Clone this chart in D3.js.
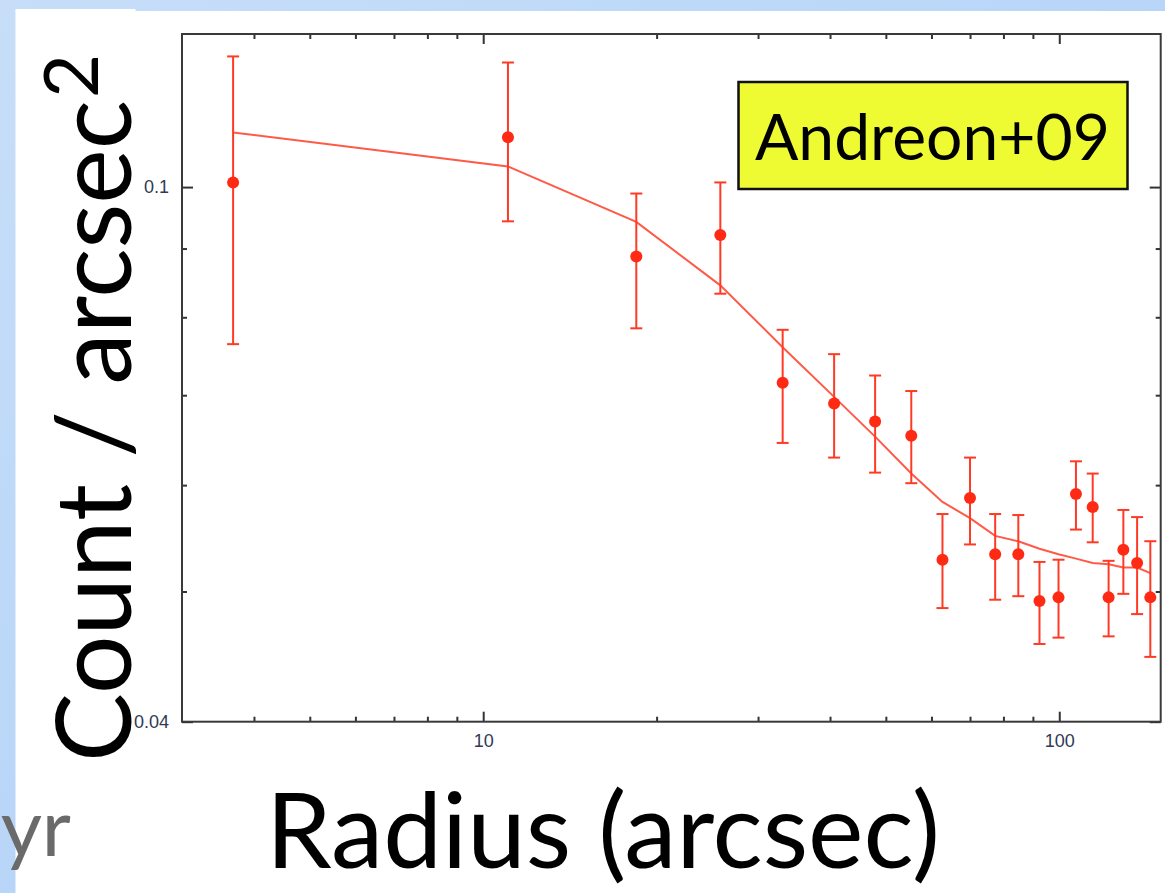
<!DOCTYPE html>
<html>
<head>
<meta charset="utf-8">
<script src="https://cdn.jsdelivr.net/npm/d3@7"></script>
<style>
  html, body { margin: 0; padding: 0; background: #ffffff; }
  svg { display: block; }
</style>
</head>
<body>
<script>
// Galaxy surface density profile with model fit (log–log)
const radius   = [3.68, 11.04, 18.44, 25.8, 33.1, 40.66, 47.9, 55.35, 62.7, 70.0,
                  77.4, 84.9, 92.4, 99.7, 106.9, 114.3, 121.8, 129.2, 136.5, 143.9];
const density  = [0.1008, 0.1089, 0.0888, 0.0921, 0.0715, 0.0690, 0.0669, 0.0653, 0.0528, 0.0587,
                  0.0533, 0.0533, 0.0492, 0.0495, 0.0591, 0.0578, 0.0495, 0.0537, 0.0525, 0.0495];
const errHigh  = [0.1251, 0.1238, 0.0989, 0.1008, 0.0783, 0.0751, 0.0724, 0.0705, 0.0571, 0.0629,
                  0.0571, 0.0570, 0.0526, 0.0528, 0.0625, 0.0612, 0.0527, 0.0575, 0.0568, 0.0545];
const errLow   = [0.0764, 0.0943, 0.0785, 0.0833, 0.0645, 0.0629, 0.0613, 0.0602, 0.0486, 0.0542,
                  0.0493, 0.0496, 0.0457, 0.0462, 0.0556, 0.0544, 0.0463, 0.0498, 0.0481, 0.0447];
const modelFit = [0.1098, 0.1036, 0.0942, 0.0845, 0.0760, 0.0698, 0.0652, 0.0612, 0.0583, 0.0567,
                  0.0550, 0.0545, 0.0538, 0.0533, 0.0529, 0.0525, 0.0524, 0.0521, 0.0521, 0.0516];

const xMajorTicks = [10, 100];
const xMajorLabels = ["10", "100"];
const xMinorTicks = [4, 5, 6, 7, 8, 9, 20, 30, 40, 50, 60, 70, 80, 90];
const yMajorTicks = [0.04, 0.1];
const yMajorLabels = ["0.04", "0.1"];
const yMinorTicks = [0.05, 0.06, 0.07, 0.08, 0.09];
const xDomain = [3, 150];
const yDomain = [0.04, 0.13];

const W = 1165, H = 893;
const plot = { left: 182, right: 1160.7, top: 34, bottom: 721.7 };

const svg = d3.select("body").append("svg")
  .attr("width", W).attr("height", H);

// slide backdrop: blue band along top and left edge
const defs = svg.append("defs");
const grad = defs.append("linearGradient").attr("id", "slideBlue")
  .attr("x1", "0").attr("y1", "0").attr("x2", "1").attr("y2", "1");
grad.append("stop").attr("offset", "0").attr("stop-color", "#c7def8");
grad.append("stop").attr("offset", "1").attr("stop-color", "#a9cdf9");
svg.append("rect").attr("width", W).attr("height", H).attr("fill", "url(#slideBlue)");
svg.append("rect").attr("x", 15.5).attr("y", 11).attr("width", W).attr("height", H).attr("fill", "#ffffff");
svg.append("rect").attr("x", 15.5).attr("y", 9).attr("width", 120).attr("height", 3).attr("fill", "#ffffff");

const x = d3.scaleLog().domain(xDomain).range([plot.left, plot.right]);
const y = d3.scaleLog().domain(yDomain).range([plot.bottom, plot.top]);

const tickColor = "#333333";
const labelColor = "#2f3a54";
const tickFont = "'Liberation Sans', Arial, Helvetica, sans-serif";

function styleAxis(g) {
  g.select(".domain").remove();
  g.selectAll(".tick line").attr("stroke", tickColor).attr("stroke-width", 2);
  g.selectAll(".tick text").attr("fill", labelColor)
    .style("font-family", tickFont).style("font-size", "18px");
}

// bottom / top axes
svg.append("g").attr("transform", `translate(0,${plot.bottom})`)
  .call(d3.axisBottom(x).tickValues(xMajorTicks).tickSize(-10).tickPadding(13)
    .tickFormat((d, i) => xMajorLabels[i])).call(styleAxis);
svg.append("g").attr("transform", `translate(0,${plot.bottom})`)
  .call(d3.axisBottom(x).tickValues(xMinorTicks).tickSize(-5).tickFormat("")).call(styleAxis);
svg.append("g").attr("transform", `translate(0,${plot.top})`)
  .call(d3.axisTop(x).tickValues(xMajorTicks).tickSize(-10).tickFormat("")).call(styleAxis);
svg.append("g").attr("transform", `translate(0,${plot.top})`)
  .call(d3.axisTop(x).tickValues(xMinorTicks).tickSize(-5).tickFormat("")).call(styleAxis);

// left / right axes
svg.append("g").attr("transform", `translate(${plot.left},0)`)
  .call(d3.axisLeft(y).tickValues(yMajorTicks).tickSize(-11).tickPadding(13)
    .tickFormat((d, i) => yMajorLabels[i])).call(styleAxis);
svg.append("g").attr("transform", `translate(${plot.left},0)`)
  .call(d3.axisLeft(y).tickValues(yMinorTicks).tickSize(-5).tickFormat("")).call(styleAxis);
svg.append("g").attr("transform", `translate(${plot.right},0)`)
  .call(d3.axisRight(y).tickValues(yMajorTicks).tickSize(-11).tickFormat("")).call(styleAxis);
svg.append("g").attr("transform", `translate(${plot.right},0)`)
  .call(d3.axisRight(y).tickValues(yMinorTicks).tickSize(-5).tickFormat("")).call(styleAxis);

// plot frame
svg.append("rect")
  .attr("x", plot.left).attr("y", plot.top)
  .attr("width", plot.right - plot.left).attr("height", plot.bottom - plot.top)
  .attr("fill", "none").attr("stroke", "#3a3a3a").attr("stroke-width", 2);

const pts = radius.map((r, i) => ({ r, v: density[i], hi: errHigh[i], lo: errLow[i], m: modelFit[i] }));

// model curve
svg.append("path")
  .datum(pts)
  .attr("fill", "none").attr("stroke", "#ff5a48").attr("stroke-width", 2)
  .attr("d", d3.line().x(d => x(d.r)).y(d => y(d.m)));

// error bars
const red = "#ff3a24";
const eb = svg.append("g").attr("stroke", red).attr("stroke-width", 2);
eb.selectAll("line.v").data(pts).join("line").attr("class", "v")
  .attr("x1", d => x(d.r)).attr("x2", d => x(d.r))
  .attr("y1", d => y(d.hi)).attr("y2", d => y(d.lo));
eb.selectAll("line.t").data(pts).join("line").attr("class", "t")
  .attr("x1", d => x(d.r) - 6).attr("x2", d => x(d.r) + 6)
  .attr("y1", d => y(d.hi)).attr("y2", d => y(d.hi));
eb.selectAll("line.b").data(pts).join("line").attr("class", "b")
  .attr("x1", d => x(d.r) - 6).attr("x2", d => x(d.r) + 6)
  .attr("y1", d => y(d.lo)).attr("y2", d => y(d.lo));

// data points
svg.append("g").selectAll("circle").data(pts).join("circle")
  .attr("cx", d => x(d.r)).attr("cy", d => y(d.v)).attr("r", 6)
  .attr("fill", "#ff2a14");

// annotation box
const boxG = svg.append("g");
boxG.append("rect").attr("x", 738.5).attr("y", 82).attr("width", 389).attr("height", 107)
  .attr("fill", "#eefb33").attr("stroke", "#111111").attr("stroke-width", 2.5);
boxG.append("text").attr("x", 755).attr("y", 159.5)
  .attr("textLength", 355).attr("lengthAdjust", "spacingAndGlyphs")
  .style("font-family", "Lato, 'Open Sans', sans-serif").style("font-size", "64px")
  .attr("fill", "#000").text("Andreon+09");

// axis titles
const titleFont = "Lato, 'Open Sans', sans-serif";
svg.append("text").attr("x", 266).attr("y", 868)
  .attr("textLength", 674).attr("lengthAdjust", "spacingAndGlyphs")
  .style("font-family", titleFont).style("font-size", "105px")
  .attr("fill", "#000").text("Radius (arcsec)");

const yt = svg.append("g").attr("transform", "translate(131,762) rotate(-90)");
yt.append("text").attr("x", 0).attr("y", 0)
  .attr("textLength", 662).attr("lengthAdjust", "spacingAndGlyphs")
  .style("font-family", titleFont).style("font-size", "105px")
  .attr("fill", "#000").text("Count / arcsec");
yt.append("text").attr("x", 664).attr("y", -33)
  .style("font-family", titleFont).style("font-size", "76px")
  .attr("fill", "#000").text("2");

// trailing word from neighbouring slide text
svg.append("text").attr("x", 71).attr("y", 856).attr("text-anchor", "end")
  .style("font-family", titleFont).style("font-size", "80px")
  .attr("fill", "#6a6a6a").text("yr");
</script>
</body>
</html>
